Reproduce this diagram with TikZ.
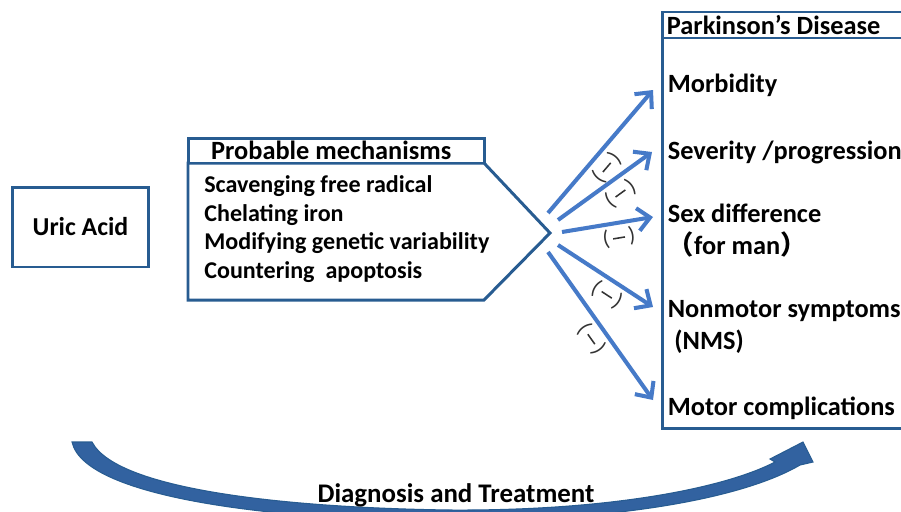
\documentclass[tikz,border=0pt]{standalone}
\usepackage{fontspec}
\setmainfont{Carlito}
\newfontfamily\cjk{Noto Sans CJK SC}
\usepackage{tikz}
\usetikzlibrary{arrows.meta}
\usetikzlibrary{positioning, calc}
\definecolor{boxblue}{RGB}{40,92,145}
\definecolor{arrowblue}{RGB}{70,122,200}
\definecolor{bandblue}{RGB}{50,98,160}
\newcommand{\minussign}{(\,\rule[0.26em]{0.55em}{0.07em}\,)}
\tikzset{
factor box/.style = { rectangle, draw = boxblue, line width = 1.7pt, fill = white, minimum width = 2.74cm, minimum height = 1.6cm, font = \fontsize{14.7}{17}\selectfont\bfseries },
head box/.style = { rectangle, draw = boxblue, line width = 1.7pt, fill = white, minimum width = 5.94cm, minimum height = 0.5cm, inner sep = 0pt, font = \fontsize{15}{17}\selectfont\bfseries },
box line/.style = { draw = boxblue, line width = 1.7pt },
item/.style = { anchor = west, inner sep = 2pt, align = left, font = \fontsize{15}{18.2}\selectfont\bfseries },
effect/.style = { draw = arrowblue, line width = 2.3pt, -{Straight Barb[length = 7pt, width = 13pt]} },
minus/.style = { sloped, below, inner sep = 2pt, font = \fontsize{12.5}{14}\selectfont, text = black!80 },
}

\begin{document}
\begin{tikzpicture}[x = 0.02cm, y = -0.02cm]
    \useasboundingbox (0, 0) rectangle (901, 511);
    % uric acid
    \node[factor box] (uric) at (80.5, 227) {Uric Acid};
    % mechanisms
    \path[box line, fill = white] (188, 163) -- (484, 163) -- (550, 233) -- (484, 300) -- (188, 300) -- cycle;
    \coordinate (tip) at (550, 233);
    \node[head box] (mech head) at (336.5, 150.5) {\hspace{-6pt}Probable mechanisms};
    \node[anchor = west, align = left, inner sep = 0pt, font = \fontsize{13.7}{16.2}\selectfont\bfseries] (mech) at (204, 229) {Scavenging free radical\\Chelating iron\\Modifying genetic variability\\Countering\ \ apoptosis};
    % parkinson's disease
    \path[box line] (662, 12) rectangle (930, 428);
    \path[box line] (662, 38) -- (930, 38);
    \node[item] (pd) at (663, 25) {Parkinson’s Disease};
    \node[item] (morb) at (664, 85) {Morbidity};
    \node[item] (sev) at (664, 152) {Severity /progression};
    \node[item] (sex) at (664, 231) {Sex difference\\{\cjk （}for man{\cjk ）}};
    \node[item] (nms) at (664, 327) {Nonmotor symptoms\\\hspace{0.25em}(NMS)};
    \node[item] (motor) at (664, 408) {Motor complications};
    % arrows
    \coordinate (s1) at ($(tip) + (-2, -20)$);
    \coordinate (s2) at ($(tip) + (8, -13)$);
    \coordinate (s3) at ($(tip) + (12, -1)$);
    \coordinate (s4) at ($(tip) + (8, 12)$);
    \coordinate (s5) at ($(tip) + (-2, 19)$);
    \coordinate (t1) at ($(morb.west) + (-11, 5)$);
    \coordinate (t2) at ($(sev.west) + (-12, 0)$);
    \coordinate (t3) at ($(sex.west) + (-11, -14)$);
    \coordinate (t4) at ($(nms.west) + (-11, -20)$);
    \coordinate (t5) at ($(motor.west) + (-11, -8)$);
    \draw[effect] (s1) -- node[minus, pos = 0.45] {\minussign} (t1);
    \draw[effect] (s2) -- node[minus, pos = 0.57] {\minussign} (t2);
    \draw[effect] (s3) -- node[minus, pos = 0.6] {\minussign} (t3);
    \draw[effect] (s4) -- node[minus, pos = 0.6] {\minussign} (t4);
    \draw[effect] (s5) -- node[minus, pos = 0.53] {\minussign} (t5);
    % diagnosis and treatment
    \path[fill = bandblue, draw = boxblue, line width = 0.6pt] (72, 442) -- (92, 442) .. controls (118, 492) and (300, 508) .. (450, 510) .. controls (610, 511) and (725, 488) .. (775, 462) -- (770, 459) -- (803, 442) -- (813, 462) -- (800, 465) .. controls (740, 500) and (610, 521) .. (450, 521) .. controls (290, 521) and (85, 500) .. (72, 442) -- cycle;
    \node[font = \fontsize{15.3}{18}\selectfont\bfseries] (dt) at (456, 495) {Diagnosis and Treatment};
\end{tikzpicture}
\end{document}
